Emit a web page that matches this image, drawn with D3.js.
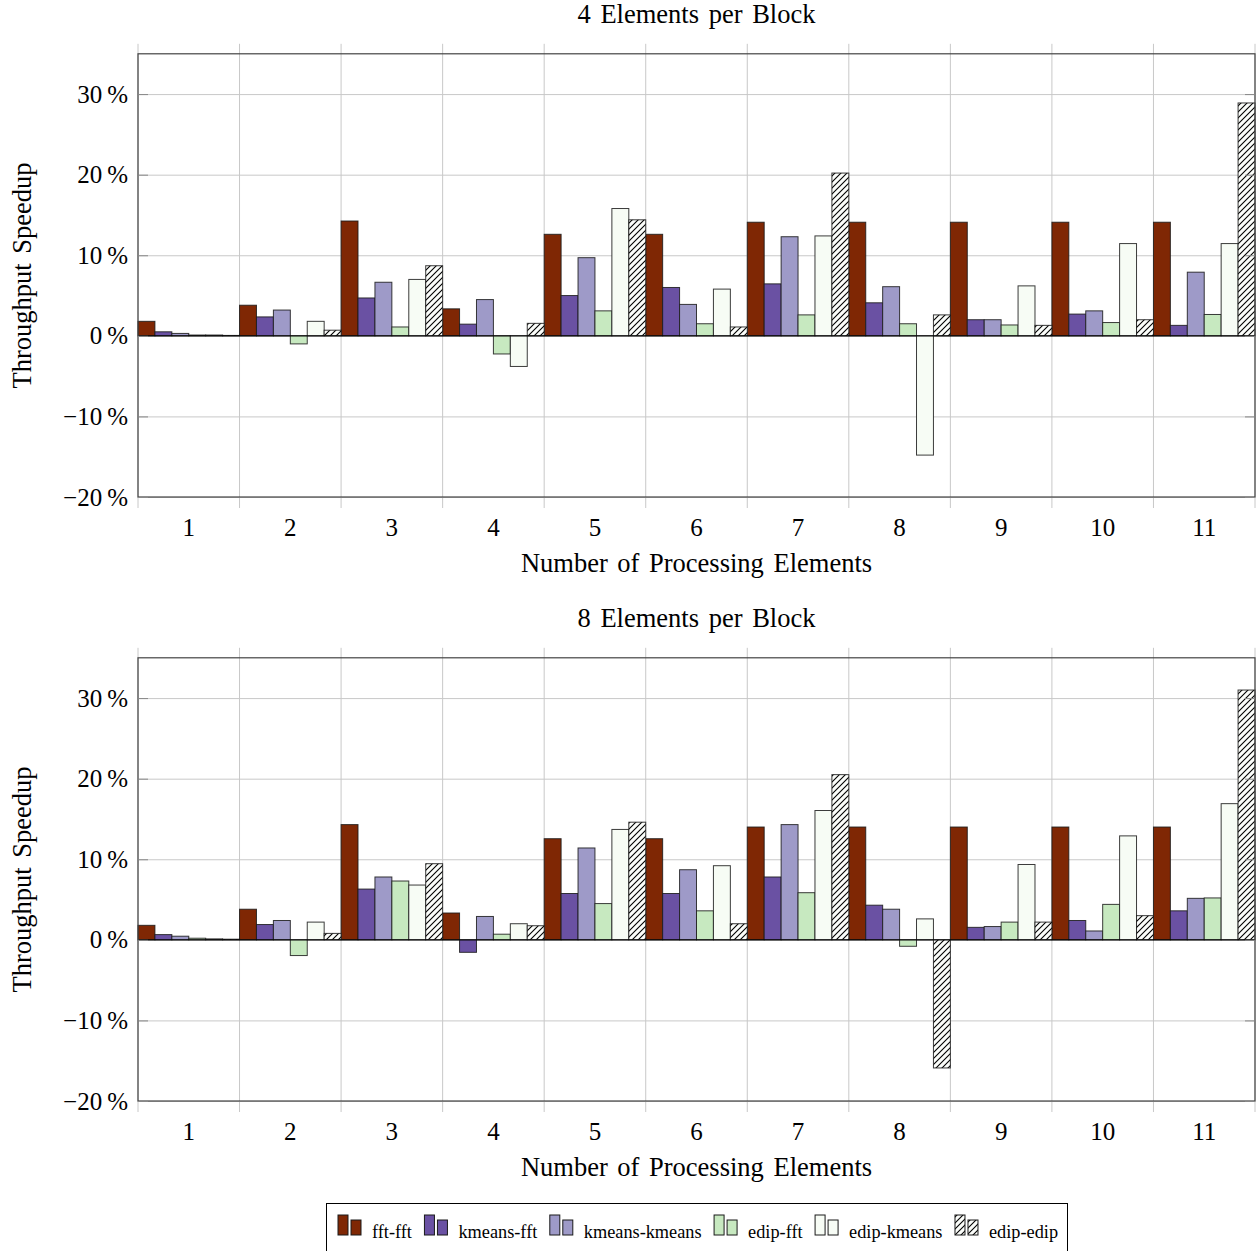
<!DOCTYPE html>
<html>
<head>
<meta charset="utf-8">
<script src="https://cdn.jsdelivr.net/npm/d3@7"></script>
<style>
  body { margin: 0; background: #fff; }
  text { font-family: "Liberation Serif", "Times New Roman", serif; fill: #000; }
</style>
</head>
<body>
<div id="chart"></div>
<script>
// categories and series
var elements = [1, 2, 3, 4, 5, 6, 7, 8, 9, 10, 11];
var seriesNames = ["fft-fft", "kmeans-fft", "kmeans-kmeans", "edip-fft", "edip-kmeans", "edip-edip"];
var yTicks = [-20, -10, 0, 10, 20, 30];

// 4 elements per block (speedup in %)
var b4FftFft       = [1.8, 3.8, 14.25, 3.35, 12.6, 12.6, 14.1, 14.1, 14.1, 14.1, 14.1];
var b4KmeansFft    = [0.5, 2.35, 4.7, 1.45, 5.0, 6.0, 6.45, 4.1, 2.0, 2.7, 1.3];
var b4KmeansKmeans = [0.3, 3.2, 6.65, 4.5, 9.7, 3.9, 12.3, 6.1, 2.0, 3.1, 7.9];
var b4EdipFft      = [0.1, -1.0, 1.1, -2.25, 3.1, 1.5, 2.6, 1.5, 1.35, 1.65, 2.65];
var b4EdipKmeans   = [0.1, 1.8, 7.0, -3.8, 15.8, 5.8, 12.4, -14.8, 6.2, 11.45, 11.45];
var b4EdipEdip     = [0.05, 0.7, 8.7, 1.55, 14.4, 1.1, 20.2, 2.6, 1.3, 2.0, 28.9];

// 8 elements per block (speedup in %)
var b8FftFft       = [1.8, 3.8, 14.3, 3.33, 12.55, 12.55, 14.0, 14.0, 14.0, 14.0, 14.0];
var b8KmeansFft    = [0.65, 1.9, 6.3, -1.55, 5.75, 5.75, 7.8, 4.3, 1.55, 2.4, 3.6];
var b8KmeansKmeans = [0.45, 2.4, 7.8, 2.9, 11.4, 8.7, 14.3, 3.8, 1.65, 1.1, 5.15];
var b8EdipFft      = [0.2, -1.95, 7.3, 0.7, 4.5, 3.6, 5.85, -0.8, 2.2, 4.4, 5.2];
var b8EdipKmeans   = [0.12, 2.2, 6.8, 2.0, 13.7, 9.2, 16.05, 2.6, 9.35, 12.9, 16.9];
var b8EdipEdip     = [0.08, 0.8, 9.45, 1.75, 14.6, 2.0, 20.5, -15.9, 2.2, 3.0, 31.0];

var seriesFill = ["#7f2704", "#6a51a3", "#9e9ac8", "#c7e9c0", "#f7fcf5", "url(#hatch)"];

var W = 1257, H = 1251;
var left = 138, right = 1255;

var svg = d3.select("#chart").append("svg")
    .attr("width", W)
    .attr("height", H);

// hatch pattern for edip-edip
var pat = svg.append("defs").append("pattern")
    .attr("id", "hatch")
    .attr("patternUnits", "userSpaceOnUse")
    .attr("width", 6)
    .attr("height", 6);
pat.append("rect").attr("width", 6).attr("height", 6).attr("fill", "#fbfdfa");
pat.append("path")
    .attr("d", "M0,6 L6,0 M-1,1 L1,-1 M5,7 L7,5")
    .attr("stroke", "#000")
    .attr("stroke-width", 1.1);

function drawPanel(offsetY, title, values) {
  var top = 53.8 + offsetY, bottom = 497 + offsetY;
  var g = svg.append("g");

  var x = d3.scaleBand().domain(elements).range([left, right]).padding(0);
  var xs = d3.scaleBand().domain(seriesNames).range([0, x.bandwidth()]).padding(0);
  var y = d3.scaleLinear().domain([-20, 35]).range([bottom, top]);

  // horizontal grid
  g.append("g")
    .attr("transform", "translate(" + left + ",0)")
    .call(d3.axisLeft(y).tickValues(yTicks).tickSize(-(right - left)).tickFormat(""))
    .call(function(a) {
      a.select(".domain").remove();
      a.selectAll("line").attr("stroke", "#c8c8c8").attr("stroke-width", 1);
    });

  // vertical grid at category boundaries, sticking out like ticks
  var bounds = elements.slice(1).map(function(d) { return x(d); });
  g.selectAll(".vgrid")
    .data(bounds.concat([left, right]))
    .enter().append("line")
      .attr("x1", function(d) { return d; })
      .attr("x2", function(d) { return d; })
      .attr("y1", top - 10)
      .attr("y2", bottom + 11)
      .attr("stroke", "#c8c8c8");

  // bars
  var rows = [];
  values.forEach(function(vals, si) {
    vals.forEach(function(v, i) {
      rows.push({el: elements[i], s: seriesNames[si], si: si, v: v});
    });
  });
  g.selectAll(".bar")
    .data(rows)
    .enter().append("rect")
      .attr("x", function(d) { return x(d.el) + xs(d.s); })
      .attr("y", function(d) { return y(Math.max(0, d.v)); })
      .attr("width", xs.bandwidth())
      .attr("height", function(d) { return Math.abs(y(d.v) - y(0)); })
      .attr("fill", function(d) { return seriesFill[d.si]; })
      .attr("stroke", "#1a1a1a")
      .attr("stroke-opacity", 0.85)
      .attr("stroke-width", 1);

  // zero line
  g.append("line")
    .attr("x1", left).attr("x2", right)
    .attr("y1", y(0)).attr("y2", y(0))
    .attr("stroke", "#000");

  // frame
  g.append("rect")
    .attr("x", left).attr("y", top)
    .attr("width", right - left).attr("height", bottom - top)
    .attr("fill", "none")
    .attr("stroke", "#444")
    .attr("stroke-width", 1.2);

  // y axis with inner ticks
  g.append("g")
    .attr("transform", "translate(" + left + ",0)")
    .call(d3.axisLeft(y).tickValues(yTicks).tickSize(-10).tickPadding(10)
      .tickFormat(function(d) { return (d < 0 ? "\u2212" + Math.abs(d) : d) + "\u2009%"; }))
    .call(function(a) {
      a.select(".domain").remove();
      a.selectAll("line").attr("stroke", "#888");
      a.selectAll("text").style("font-size", "25px").style("font-family", "Liberation Serif");
    });
  g.append("g")
    .attr("transform", "translate(" + right + ",0)")
    .call(d3.axisRight(y).tickValues(yTicks).tickSize(-10).tickFormat(""))
    .call(function(a) {
      a.select(".domain").remove();
      a.selectAll("line").attr("stroke", "#888");
    });

  // x axis labels
  g.append("g")
    .attr("transform", "translate(0," + bottom + ")")
    .call(d3.axisBottom(x).tickSize(0).tickPadding(21))
    .call(function(a) {
      a.select(".domain").remove();
      a.selectAll("text").style("font-size", "25px").style("font-family", "Liberation Serif");
    });

  g.append("text")
    .attr("x", (left + right) / 2)
    .attr("y", bottom + 75)
    .attr("text-anchor", "middle")
    .style("font-size", "26.5px")
    .style("word-spacing", "3px")
    .text("Number of Processing Elements");

  g.append("text")
    .attr("transform", "translate(31," + (top + bottom) / 2 + ") rotate(-90)")
    .attr("text-anchor", "middle")
    .style("font-size", "26.5px")
    .style("word-spacing", "3px")
    .text("Throughput Speedup");

  g.append("text")
    .attr("x", (left + right) / 2)
    .attr("y", top - 31)
    .attr("text-anchor", "middle")
    .style("font-size", "26.5px")
    .style("word-spacing", "3px")
    .text(title);
}

drawPanel(0, "4 Elements per Block",
  [b4FftFft, b4KmeansFft, b4KmeansKmeans, b4EdipFft, b4EdipKmeans, b4EdipEdip]);
drawPanel(604, "8 Elements per Block",
  [b8FftFft, b8KmeansFft, b8KmeansKmeans, b8EdipFft, b8EdipKmeans, b8EdipEdip]);

// legend
var legend = svg.append("g");
legend.append("rect")
  .attr("x", 326.5).attr("y", 1203.5)
  .attr("width", 741).attr("height", 60)
  .attr("fill", "#fff")
  .attr("stroke", "#000");

var lx = 338;
seriesNames.forEach(function(name, i) {
  var e = legend.append("g");
  e.append("rect")
    .attr("x", lx).attr("y", 1215).attr("width", 10).attr("height", 20)
    .attr("fill", seriesFill[i]).attr("stroke", "#1a1a1a");
  e.append("rect")
    .attr("x", lx + 13).attr("y", 1220).attr("width", 10).attr("height", 15)
    .attr("fill", seriesFill[i]).attr("stroke", "#1a1a1a");
  var t = e.append("text")
    .attr("x", lx + 34).attr("y", 1238)
    .style("font-size", "18.3px")
    .text(name);
  lx += 34 + t.node().getComputedTextLength() + 12.5;
});
</script>
</body>
</html>
